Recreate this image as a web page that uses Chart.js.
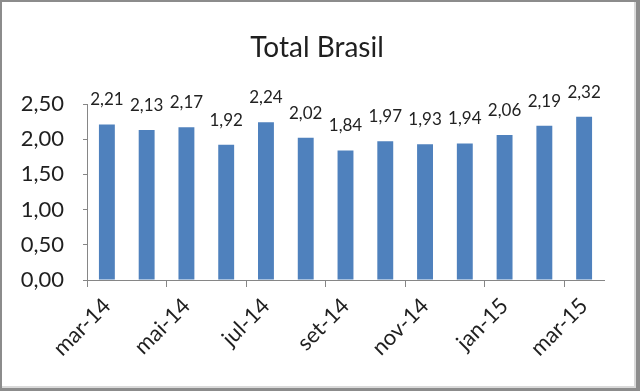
<!DOCTYPE html>
<html>
<head>
<meta charset="utf-8">
<script src="https://cdn.jsdelivr.net/npm/chart.js@4.4.1/dist/chart.umd.min.js"></script>
<style>
  html, body { margin: 0; padding: 0; background: #ffffff; }
  #wrap { position: absolute; left: 0; top: 0; width: 640px; height: 391px; }
</style>
</head>
<body>
<div id="wrap"><canvas id="c" width="640" height="391"></canvas></div>
<script>
const chartTitle = "Total Brasil";
const categories = ["mar-14","abr-14","mai-14","jun-14","jul-14","ago-14","set-14","out-14","nov-14","dez-14","jan-15","fev-15","mar-15"];
const values = [2.21, 2.13, 2.17, 1.92, 2.24, 2.02, 1.84, 1.97, 1.93, 1.94, 2.06, 2.19, 2.32];
const yTicks = [0, 0.5, 1.0, 1.5, 2.0, 2.5];

const fmt = v => Number(v).toFixed(2).replace('.', ',');
const FONT = 'Lato, "Open Sans", sans-serif';
Chart.defaults.font.family = FONT;

const framePlugin = {
  id: 'frame',
  beforeDraw(chart) {
    const ctx = chart.ctx;
    ctx.save();
    ctx.fillStyle = '#8c8c8c';
    ctx.fillRect(0, 0, 640, 391);
    ctx.fillStyle = '#d9d9d9';
    ctx.fillRect(2, 2, 634, 386);
    ctx.fillStyle = '#ffffff';
    ctx.fillRect(2, 2, 632, 384);
    ctx.restore();
  },
  afterDraw(chart) {
    const ctx = chart.ctx;
    ctx.save();
    ctx.fillStyle = '#1f1f1f';
    ctx.font = '28px ' + FONT;
    ctx.textAlign = 'center';
    ctx.textBaseline = 'alphabetic';
    ctx.fillText(chartTitle, 317, 57);
    ctx.restore();
  }
};

const labelPlugin = {
  id: 'barLabels',
  afterDatasetsDraw(chart) {
    const ctx = chart.ctx;
    const meta = chart.getDatasetMeta(0);
    ctx.save();
    ctx.fillStyle = '#222222';
    ctx.font = '17px ' + FONT;
    ctx.textAlign = 'center';
    ctx.textBaseline = 'alphabetic';
    meta.data.forEach((bar, i) => {
      ctx.fillText(fmt(values[i]), bar.x, bar.y - 19);
    });
    ctx.restore();
  }
};

new Chart(document.getElementById('c'), {
  type: 'bar',
  data: {
    labels: categories,
    datasets: [{
      data: values,
      backgroundColor: '#4F81BD',
      borderWidth: 0,
      barPercentage: 0.4,
      categoryPercentage: 1.0
    }]
  },
  options: {
    responsive: false,
    animation: false,
    devicePixelRatio: 1,
    layout: { padding: { top: 104, right: 36, left: 0, bottom: 0 } },
    plugins: { legend: { display: false }, tooltip: { enabled: false }, title: { display: false } },
    scales: {
      x: {
        type: 'category',
        offset: true,
        grid: {
          offset: true,
          drawOnChartArea: false,
          drawTicks: true,
          tickLength: 7,
          color: ctx => (ctx.index % 2 === 0 ? '#868686' : 'rgba(0,0,0,0)')
        },
        border: { color: '#868686', width: 1 },
        ticks: {
          autoSkip: false,
          minRotation: 45,
          maxRotation: 45,
          padding: 6,
          color: '#1f1f1f',
          font: { size: 22 },
          callback: (v, i) => (i % 2 === 0 ? categories[i] : '')
        },
        afterFit: s => { s.height = 111; }
      },
      y: {
        min: 0,
        max: 2.5,
        afterBuildTicks: s => { s.ticks = yTicks.map(v => ({ value: v })); },
        grid: { drawOnChartArea: false, drawTicks: true, tickLength: 4, color: '#868686' },
        border: { color: '#868686', width: 1 },
        ticks: {
          padding: 19,
          color: '#1f1f1f',
          font: { size: 22 },
          callback: v => fmt(v)
        },
        afterFit: s => { s.width = 87; }
      }
    }
  },
  plugins: [framePlugin, labelPlugin]
});
</script>
</body>
</html>
